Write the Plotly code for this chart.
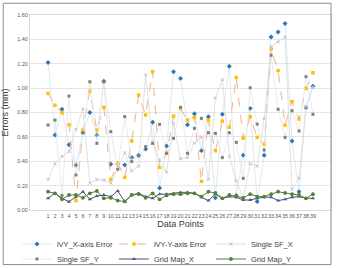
import plotly.graph_objects as go

cats = [str(i) for i in range(1, 40)]

ivy_x = [1.21, 0.615, 0.826, 0.536, 0.367, 0.634, 0.80, 0.615, 1.056, 0.375,
         0.38, 0.37, 0.43, 0.45, 0.50, 0.72, 0.18, 0.525, 1.135, 1.08,
         0.70, 0.79, 0.487, 0.765, 0.10, 0.785, 1.18, 0.12, 0.45, 0.834,
         0.07, 0.45, 1.42, 1.46, 1.53, 0.566, 0.15, 0.84, 1.015]

ivy_y = [0.957, 0.86, 0.80, 0.70, 0.077, 0.656, 0.976, 0.656, 0.842, 0.25,
         0.383, 0.268, 0.566, 0.943, 0.78, 1.135, 0.35, 0.47, 0.77, 0.83,
         0.738, 0.76, 0.235, 0.738, 0.487, 0.73, 0.678, 1.088, 0.59, 0.765,
         0.596, 0.539, 1.32, 1.143, 0.697, 0.889, 0.746, 0.998, 1.126]

sf_x = [0.25, 0.38, 0.44, 0.48, 0.66, 0.83, 0.22, 0.25, 0.245, 0.22,
        0.35, 0.47, 0.32, 0.36, 1.11, 0.55, 0.41, 0.31, 0.71, 0.42,
        0.43, 0.55, 0.60, 0.25, 0.92, 1.07, 0.44, 0.24, 0.10, 0.38,
        0.36, 0.75, 1.34, 1.38, 1.42, 0.17, 0.26, 0.85, 1.01]

sf_y = [0.697, 0.738, 0.12, 0.935, 0.287, 0.634, 1.052, 0.547, 1.052, 0.643,
        0.334, 0.766, 0.397, 0.445, 0.52, 0.547, 0.703, 0.465, 0.588, 0.842,
        0.465, 0.67, 0.752, 0.634, 0.629, 0.43, 0.634, 0.555, 0.26, 1.003,
        0.705, 0.492, 1.27, 0.826, 0.596, 0.815, 0.648, 1.094, 0.785]

grid_x = [0.096, 0.137, 0.096, 0.068, 0.109, 0.15, 0.088, 0.115, 0.123, 0.109,
          0.156, 0.068, 0.123, 0.137, 0.109, 0.096, 0.13, 0.13, 0.137, 0.145,
          0.145, 0.137, 0.105, 0.077, 0.13, 0.096, 0.11, 0.105, 0.082, 0.082,
          0.096, 0.105, 0.105, 0.077, 0.088, 0.105, 0.11, 0.096, 0.096]

grid_y = [0.15, 0.137, 0.088, 0.123, 0.123, 0.10, 0.137, 0.156, 0.096, 0.10,
          0.077, 0.07, 0.123, 0.13, 0.10, 0.137, 0.088, 0.12, 0.13, 0.13,
          0.137, 0.137, 0.11, 0.15, 0.14, 0.096, 0.123, 0.11, 0.10, 0.13,
          0.11, 0.11, 0.13, 0.15, 0.14, 0.13, 0.123, 0.096, 0.13]

fig = go.Figure()

fig.add_trace(go.Scatter(x=cats, y=ivy_x, name="iVY_X-axis Error", mode="lines+markers",
                         legend="legend",
                         line=dict(color="rgba(157,195,230,0.5)", width=0.7),
                         marker=dict(symbol="diamond", size=3.8, color="#2E75B6")))
fig.add_trace(go.Scatter(x=cats, y=ivy_y, name="iVY-Y-axis Error", mode="lines+markers",
                         legend="legend",
                         line=dict(color="#F4B183", width=1.0, dash="dash"),
                         marker=dict(symbol="square", size=3.5, color="#FFC000")))
fig.add_trace(go.Scatter(x=cats, y=sf_x, name="Single SF_X", mode="lines+markers",
                         legend="legend",
                         line=dict(color="#D3D3D3", width=0.7),
                         marker=dict(symbol="x-thin", size=3, color="#BFBFBF",
                                     line=dict(width=1, color="#BFBFBF"))))
fig.add_trace(go.Scatter(x=cats, y=sf_y, name="Single SF_Y", mode="lines+markers",
                         legend="legend2",
                         line=dict(color="#E3E3E3", width=0.7),
                         marker=dict(symbol="square", size=3, color="#7F7F7F")))
fig.add_trace(go.Scatter(x=cats, y=grid_x, name="Grid Map_X", mode="lines+markers",
                         legend="legend2",
                         line=dict(color="#44546A", width=1.0),
                         marker=dict(symbol="triangle-up", size=3.8, color="#4A5A8C")))
fig.add_trace(go.Scatter(x=cats, y=grid_y, name="Grid Map_Y", mode="lines+markers",
                         legend="legend2",
                         line=dict(color="#548235", width=1.0),
                         marker=dict(symbol="circle", size=3.8, color="#548235")))

leg_common = dict(orientation="h", xref="container", yref="container",
                  xanchor="left", yanchor="middle",
                  entrywidth=52, entrywidthmode="pixels", itemwidth=30,
                  font=dict(size=7.5, color="#404040"), tracegroupgap=0,
                  bgcolor="rgba(0,0,0,0)")

fig.update_layout(
    width=346, height=268,
    margin=dict(l=30, r=15, t=15, b=58, autoexpand=False),
    paper_bgcolor="white", plot_bgcolor="white",
    font=dict(family="Liberation Sans, Arial, sans-serif", color="#404040"),
    showlegend=True,
    legend=dict(leg_common, x=0.049, y=1 - 244 / 268),
    legend2=dict(leg_common, x=0.049, y=1 - 259 / 268),
    xaxis=dict(type="category", tickfont=dict(size=5.5, color="#595959"),
               tickmode="linear", dtick=1, tickangle=0, automargin=True,
               showgrid=False, showline=True, linecolor="#D9D9D9", linewidth=1,
               mirror=True, ticks="",
               title=dict(text="Data Points", font=dict(size=9, color="#404040"), standoff=6)),
    yaxis=dict(range=[0, 1.6], dtick=0.2, tickformat=".2f", automargin=True,
               tickfont=dict(size=5.5, color="#595959"),
               showgrid=True, gridcolor="#E6E6E6", gridwidth=1,
               showline=True, linecolor="#D9D9D9", mirror=True, zeroline=False,
               title=dict(text="Errors (mm)", font=dict(size=9, color="#404040"), standoff=7)),
    shapes=[dict(type="rect", xref="paper", yref="paper",
                 x0=-0.089, x1=1.0, y0=-0.28, y1=1.06,
                 line=dict(color="#8C8C8C", width=1), fillcolor="rgba(0,0,0,0)")],
)

fig.write_html("out.html")
